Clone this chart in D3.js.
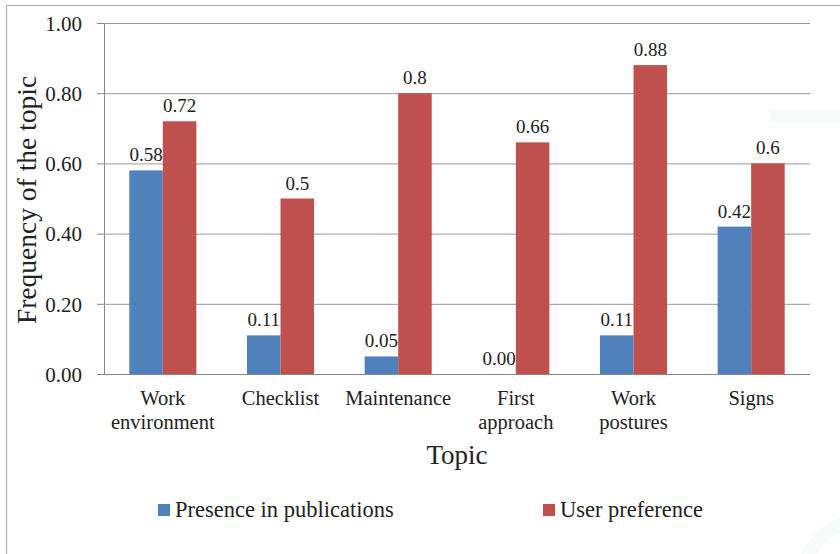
<!DOCTYPE html>
<html>
<head>
<meta charset="utf-8">
<script src="https://cdn.jsdelivr.net/npm/d3@7"></script>
<style>
  html, body { margin: 0; padding: 0; background: #fff; }
  svg { display: block; }
  svg text { font-family: "Liberation Serif", "Times New Roman", serif !important; fill: #222; }
</style>
</head>
<body>
<svg id="chart" width="840" height="554"></svg>
<script>
// Topics and their frequencies
const categories = [["Work", "environment"], ["Checklist"], ["Maintenance"], ["First", "approach"], ["Work", "postures"], ["Signs"]];
const categoryKeys = ["Work environment", "Checklist", "Maintenance", "First approach", "Work postures", "Signs"];
const presence = [0.58, 0.11, 0.05, 0.00, 0.11, 0.42];
const presenceLabels = ["0.58", "0.11", "0.05", "0.00", "0.11", "0.42"];
const preference = [0.72, 0.5, 0.8, 0.66, 0.88, 0.6];
const preferenceLabels = ["0.72", "0.5", "0.8", "0.66", "0.88", "0.6"];
const seriesNames = ["Presence in publications", "User preference"];
const yTicks = [0, 0.2, 0.4, 0.6, 0.8, 1.0];

const colors = ["#4F81BD", "#C0504D"];
const serif = "Liberation Serif, Times New Roman, serif";
const svg = d3.select("#chart").attr("font-family", serif);

// faint background decoration
svg.append("rect").attr("x", 770).attr("y", 109).attr("width", 70).attr("height", 14).attr("fill", "#f6faf9");
svg.append("path")
  .attr("d", d3.arc()({ innerRadius: 52, outerRadius: 66, startAngle: -Math.PI / 2, endAngle: 0 }))
  .attr("transform", "translate(862,580)")
  .attr("fill", "#f6faf9");

// outer frame
svg.append("path").attr("d", "M6.5,554 L6.5,5.5 L840,5.5").attr("fill", "none").attr("stroke", "#b0b0b0").attr("stroke-width", 1.2);

const plot = { left: 104, right: 810, top: 23, bottom: 374 };

const x = d3.scaleBand().domain(categoryKeys).range([plot.left, plot.right]).paddingInner(0.43).paddingOuter(0.215);
const xs = d3.scaleBand().domain([0, 1]).range([0, x.bandwidth()]);
const y = d3.scaleLinear().domain([0, 1]).range([plot.bottom, plot.top]);

// gridlines and y axis
const yAxis = d3.axisLeft(y).tickValues(yTicks).tickFormat(d3.format(".2f")).tickSize(7).tickPadding(15);
const gy = svg.append("g").attr("transform", `translate(${plot.left},0)`).call(yAxis);
gy.attr("font-family", serif);
gy.select(".domain").attr("stroke", "#888");
gy.selectAll(".tick line").attr("stroke", "#888");
gy.selectAll(".tick text").attr("font-size", 21).attr("fill", "#222").attr("dy", "0.35em");

svg.append("g").selectAll("line").data(yTicks.filter(d => d > 0)).join("line")
  .attr("x1", plot.left).attr("x2", plot.right)
  .attr("y1", d => y(d) + 0.5).attr("y2", d => y(d) + 0.5)
  .attr("stroke", "#999").attr("stroke-width", 1);

// bars
const series = [presence, preference];
const labels = [presenceLabels, preferenceLabels];
series.forEach((vals, si) => {
  const g = svg.append("g");
  g.selectAll("rect").data(vals).join("rect")
    .attr("x", (d, i) => x(categoryKeys[i]) + xs(si))
    .attr("y", d => y(d))
    .attr("width", xs.bandwidth())
    .attr("height", d => y(0) - y(d))
    .attr("fill", colors[si]);
  g.selectAll("text").data(vals).join("text")
    .attr("x", (d, i) => x(categoryKeys[i]) + xs(si) + xs.bandwidth() / 2)
    .attr("y", d => y(d) - 9)
    .attr("text-anchor", "middle")
    .attr("font-size", 19)
    .text((d, i) => labels[si][i]);
});

// baseline
svg.append("line").attr("x1", 97).attr("x2", plot.right).attr("y1", plot.bottom + 0.5).attr("y2", plot.bottom + 0.5).attr("stroke", "#888");

// category labels
const cl = svg.append("g");
categories.forEach((lines, i) => {
  const t = cl.append("text")
    .attr("x", x(categoryKeys[i]) + x.bandwidth() / 2)
    .attr("y", 405)
    .attr("text-anchor", "middle")
    .attr("font-size", 20.5);
  lines.forEach((ln, j) => {
    t.append("tspan").attr("x", x(categoryKeys[i]) + x.bandwidth() / 2).attr("dy", j === 0 ? 0 : 24).text(ln);
  });
});

// axis titles
svg.append("text").attr("x", 457).attr("y", 464).attr("text-anchor", "middle").attr("font-size", 27).text("Topic");
svg.append("text").attr("transform", "translate(36,200) rotate(-90)").attr("text-anchor", "middle").attr("font-size", 27.5).text("Frequency of the topic");

// legend
const legendX = [158, 543];
seriesNames.forEach((name, i) => {
  svg.append("rect").attr("x", legendX[i]).attr("y", 504).attr("width", 12).attr("height", 12).attr("fill", colors[i]);
  svg.append("text").attr("x", legendX[i] + 17).attr("y", 517).attr("font-size", 22.5).text(name);
});
</script>
</body>
</html>
